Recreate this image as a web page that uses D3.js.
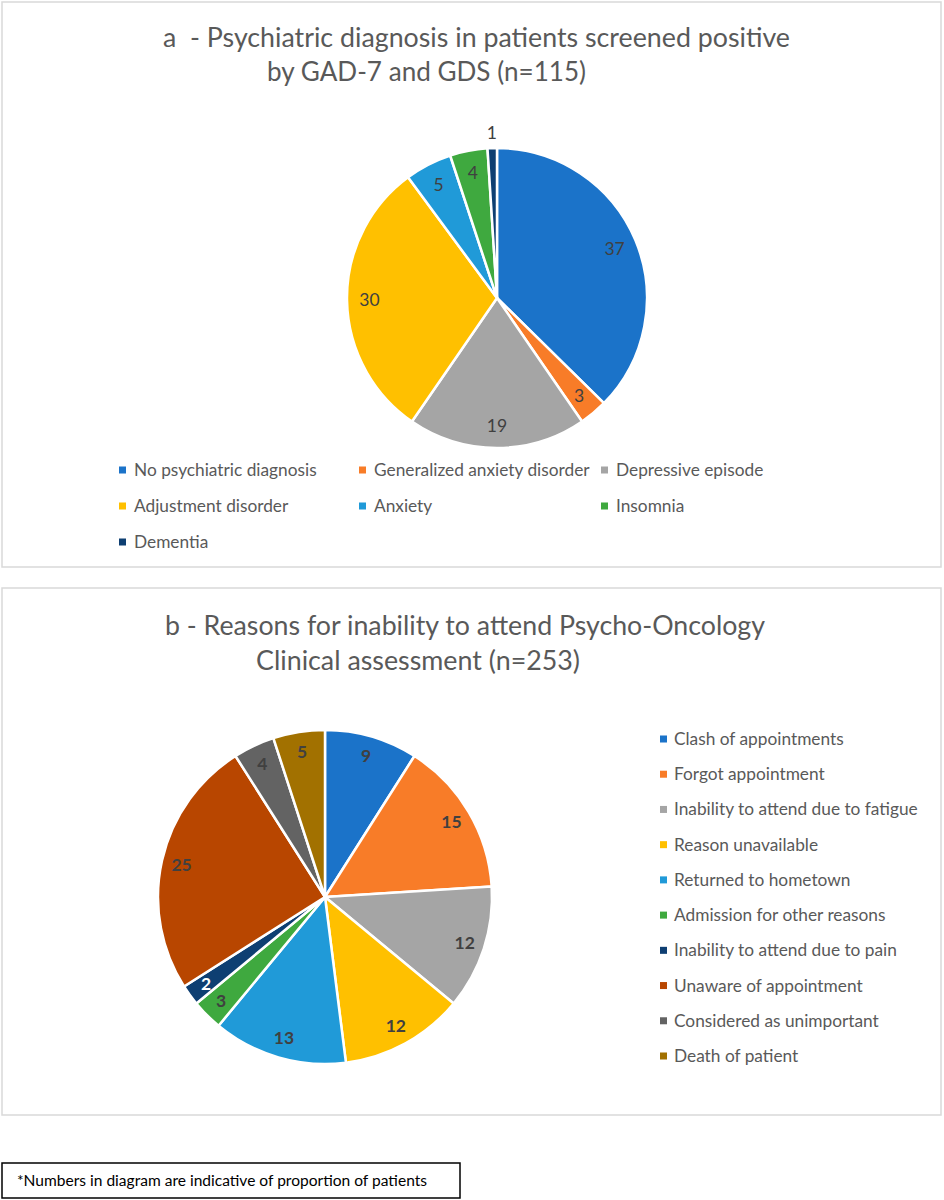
<!DOCTYPE html>
<html>
<head>
<meta charset="utf-8">
<script src="https://cdn.jsdelivr.net/npm/d3@7/dist/d3.min.js"></script>
<style>
  html, body { margin: 0; padding: 0; background: #fff; }
  svg { display: block; }
  text { font-family: Lato, "Open Sans", sans-serif; white-space: pre; }
</style>
</head>
<body>
<svg id="chart" width="944" height="1200"></svg>
<script>
// ---------- Data ----------
const titleA = ["a  - Psychiatric diagnosis in patients screened positive", "by GAD-7 and GDS (n=115)"];
const categoriesA = ["No psychiatric diagnosis", "Generalized anxiety disorder", "Depressive episode",
                     "Adjustment disorder", "Anxiety", "Insomnia", "Dementia"];
const valuesA = [37, 3, 19, 30, 5, 4, 1];
const colorsA = ["#1B73C9", "#F87C28", "#A5A5A5", "#FFC000", "#209AD8", "#3FA93F", "#0E3F72"];

const titleB = ["b - Reasons for inability to attend Psycho-Oncology", "Clinical assessment (n=253)"];
const categoriesB = ["Clash of appointments", "Forgot appointment", "Inability to attend due to fatigue",
                     "Reason unavailable", "Returned to hometown", "Admission for other reasons",
                     "Inability to attend due to pain", "Unaware of appointment", "Considered as unimportant",
                     "Death of patient"];
const valuesB = [9, 15, 12, 12, 13, 3, 2, 25, 4, 5];
const colorsB = ["#1B73C9", "#F87C28", "#A5A5A5", "#FFC000", "#209AD8", "#3FA93F", "#0E3F72",
                 "#B84600", "#636363", "#A27100"];

const footnote = "*Numbers in diagram are indicative of proportion of patients";

// ---------- Drawing ----------
const svg = d3.select("#chart");
const textColor = "#595959";

function fitText(sel, target) {
  const node = sel.node();
  const w = node.getComputedTextLength();
  if (Math.abs(w - target) > 1) {
    sel.attr("textLength", target).attr("lengthAdjust", "spacingAndGlyphs");
  }
}

// panel frames
svg.append("rect").attr("x", 2).attr("y", 2).attr("width", 939).attr("height", 565)
  .attr("fill", "#fff").attr("stroke", "#D9D9D9").attr("stroke-width", 1.5);
svg.append("rect").attr("x", 2).attr("y", 588).attr("width", 939).attr("height", 527)
  .attr("fill", "#fff").attr("stroke", "#D9D9D9").attr("stroke-width", 1.5);

function title(lines, specs) {
  lines.forEach((t, i) => {
    const s = specs[i];
    const el = svg.append("text").attr("x", s.x).attr("y", s.y)
      .attr("font-size", 27).attr("font-weight", 400).attr("fill", textColor).text(t);
    fitText(el, s.w);
  });
}
title(titleA, [{x: 163, y: 47, w: 627}, {x: 267, y: 81, w: 319}]);
title(titleB, [{x: 165, y: 635, w: 600}, {x: 256, y: 670, w: 324}]);

function drawPie(values, colors, cx, cy, r, opts) {
  const g = svg.append("g").attr("transform", `translate(${cx},${cy})`);
  const pie = d3.pie().sort(null).value(d => d)(values);
  const arc = d3.arc().innerRadius(0).outerRadius(r);
  g.selectAll("path.slice").data(pie).join("path")
    .attr("class", "slice")
    .attr("d", arc)
    .attr("fill", (d, i) => colors[i])
    .attr("stroke", "#fff").attr("stroke-width", 2.5).attr("stroke-linejoin", "round");
  const labelArc = d3.arc().innerRadius(r * opts.labelR).outerRadius(r * opts.labelR);
  const outArc = d3.arc().innerRadius(r * 1.1).outerRadius(r * 1.1);
  g.selectAll("text.lbl").data(pie).join("text")
    .attr("class", "lbl")
    .attr("transform", (d, i) => {
      const c = (opts.outside.includes(i) ? outArc : labelArc).centroid(d);
      return `translate(${c[0]},${c[1]})`;
    })
    .attr("text-anchor", "middle").attr("dy", "0.35em")
    .attr("font-size", opts.fontSize).attr("font-weight", opts.weight)
    .attr("fill", (d, i) => opts.white.includes(i) ? "#fff" : "#404040")
    .text(d => d.data);
}

drawPie(valuesA, colorsA, 497, 298, 150, {labelR: 0.85, outside: [6], white: [], fontSize: 17.5, weight: 400});
drawPie(valuesB, colorsB, 325, 897, 167, {labelR: 0.88, outside: [], white: [6], fontSize: 17.5, weight: 700});

// legend A (3 columns)
const colX = [122, 362, 604];
const rowY = [470, 506, 542];
categoriesA.forEach((c, i) => {
  const x = colX[i % 3], y = rowY[Math.floor(i / 3)];
  svg.append("rect").attr("x", x - 3).attr("y", y - 3.5).attr("width", 7).attr("height", 7).attr("fill", colorsA[i]);
  svg.append("text").attr("x", x + 12).attr("y", y).attr("dy", "0.35em")
    .attr("font-size", 17.3).attr("fill", textColor).text(c);
});

// legend B (vertical)
const legBY = d3.scaleLinear().domain([0, categoriesB.length - 1]).range([739, 1056]);
categoriesB.forEach((c, i) => {
  const y = legBY(i);
  svg.append("rect").attr("x", 660).attr("y", y - 3.5).attr("width", 7).attr("height", 7).attr("fill", colorsB[i]);
  svg.append("text").attr("x", 674).attr("y", y).attr("dy", "0.35em")
    .attr("font-size", 17.3).attr("fill", textColor).text(c);
});

// footnote box
svg.append("rect").attr("x", 2).attr("y", 1163).attr("width", 458).attr("height", 35)
  .attr("fill", "#fff").attr("stroke", "#000").attr("stroke-width", 1.5);
const fn = svg.append("text").attr("x", 17).attr("y", 1181).attr("dy", "0.35em")
  .attr("font-size", 15.5).attr("fill", "#000").text(footnote);
fitText(fn, 410);
</script>
</body>
</html>
